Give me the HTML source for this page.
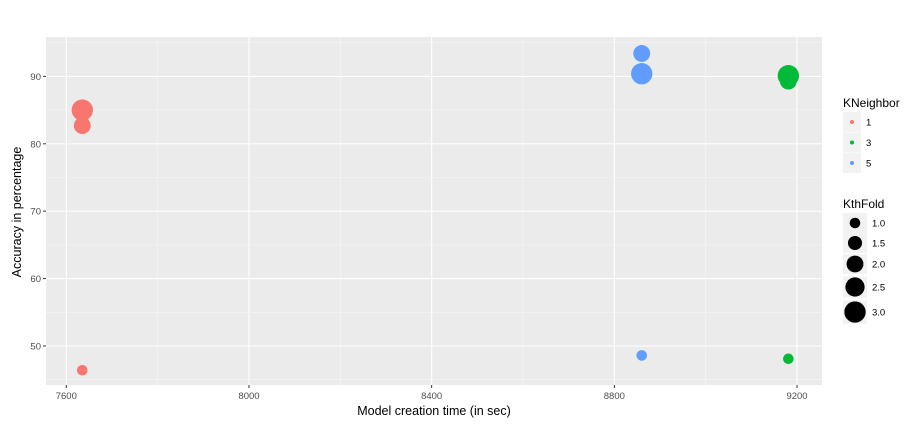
<!DOCTYPE html>
<html><head><meta charset="utf-8"><style>
body{margin:0;background:#fff;}
svg{display:block;font-family:"Liberation Sans",sans-serif;}
</style></head><body>
<svg id="chart" width="910" height="424">
<rect x="46" y="37" width="776" height="348" fill="#ebebeb"/>
<g id="grid"></g><g id="axes"></g><g id="points"></g>
<text x="434" y="415" text-anchor="middle" font-size="12.5" fill="#000">Model creation time (in sec)</text>
<text transform="translate(21,212) rotate(-90)" text-anchor="middle" font-size="12.5" fill="#000">Accuracy in percentage</text>
<g id="legend"></g>
</svg>
<script>
const xTicks=[7600,8000,8400,8800,9200];
const yTicks=[50,60,70,80,90];
const times=[7635,7635,7635,8860,8860,8860,9181,9181,9181];
const accuracy=[85.0,82.7,46.4,93.4,90.4,48.6,90.1,89.3,48.1];
const kneighbor=[1,1,1,5,5,5,3,3,3];
const kthfold=[3,2,1,2,3,1,3,2,1];
const neighborLevels=[1,3,5];
const foldLevels=[1.0,1.5,2.0,2.5,3.0];
const colors={1:"#f8766d",3:"#00ba38",5:"#619cff"};
const NS="http://www.w3.org/2000/svg";
const xs=v=>66.3+(v-7600)*0.4567;
const ys=v=>346-(v-50)*6.74;
const rs=k=>Math.sqrt(28+43*(k-1));
function mk(p,t,a){const e=document.createElementNS(NS,t);for(const k in a)e.setAttribute(k,a[k]);p.appendChild(e);return e;}
const grid=document.getElementById('grid'),axes=document.getElementById('axes'),pts=document.getElementById('points'),leg=document.getElementById('legend');
for(let i=0;i<xTicks.length;i++){
  if(i<xTicks.length-1){const m=(xTicks[i]+xTicks[i+1])/2;const l=mk(grid,'line',{x1:xs(m),x2:xs(m),y1:37,y2:385,stroke:'#f5f5f5','stroke-width':0.6});
  
  }
  const g=mk(grid,'line',{x1:xs(xTicks[i]),x2:xs(xTicks[i]),y1:37,y2:385,stroke:'#fff','stroke-width':1.1});
  
  
  mk(axes,'line',{x1:xs(xTicks[i]),x2:xs(xTicks[i]),y1:385,y2:388,stroke:'#333'});
  const t=mk(axes,'text',{x:xs(xTicks[i]),y:399,'text-anchor':'middle','font-size':9.5,fill:'#4d4d4d'});t.textContent=xTicks[i];
  
  
}
const yMinor=[45,55,65,75,85,95];
yMinor.forEach(v=>{const l=mk(grid,'line',{x1:46,x2:822,y1:ys(v),y2:ys(v),stroke:'#f5f5f5','stroke-width':0.6});
  
  });
yTicks.forEach(v=>{
  const g=mk(grid,'line',{x1:46,x2:822,y1:ys(v),y2:ys(v),stroke:'#fff','stroke-width':1.1});
  
  
  mk(axes,'line',{x1:43,x2:46,y1:ys(v),y2:ys(v),stroke:'#333'});
  const t=mk(axes,'text',{x:41,y:ys(v)+3.5,'text-anchor':'end','font-size':9.5,fill:'#4d4d4d'});t.textContent=v;
  
  
});
for(let i=0;i<times.length;i++){
  const c=mk(pts,'circle',{cx:xs(times[i]),cy:ys(accuracy[i]),r:rs(kthfold[i]),fill:colors[kneighbor[i]]});
  
  
}
let t=mk(leg,'text',{x:843,y:107,'font-size':12});t.textContent='KNeighbor';


neighborLevels.forEach((n,i)=>{
  const cy=122+i*20.5;
  mk(leg,'rect',{x:843,y:cy-10,width:18,height:20,fill:'#f2f2f2'});
  const c=mk(leg,'circle',{cx:852,cy:cy,r:2,fill:colors[n]});
  
  
  const l=mk(leg,'text',{x:866,y:cy+3.5,'font-size':9.5,fill:'#000'});l.textContent=n;
  
  
});
t=mk(leg,'text',{x:843,y:208,'font-size':12});t.textContent='KthFold';


const foldY=[223,243,264,287,312];
foldLevels.forEach((f,i)=>{
  const cy=foldY[i],h=Math.max(20,2*rs(f)+2);
  mk(leg,'rect',{x:843,y:cy-h/2,width:24,height:h,fill:'#f2f2f2'});
  const c=mk(leg,'circle',{cx:855,cy:cy,r:rs(f),fill:'#000'});
  
  
  const l=mk(leg,'text',{x:872,y:cy+3.5,'font-size':9.5,fill:'#000'});l.textContent=f.toFixed(1);
  
  
});
</script>
</body></html>
